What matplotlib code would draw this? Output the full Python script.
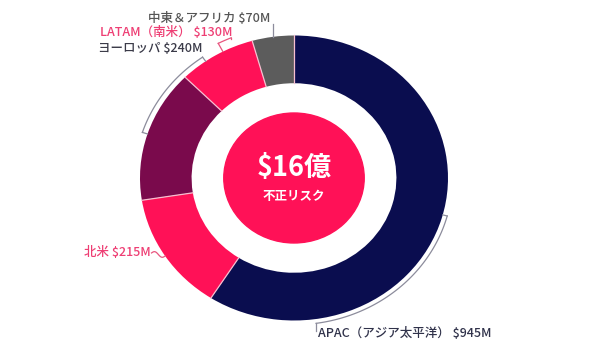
import numpy as np
import matplotlib.pyplot as plt

plt.rcParams['font.family'] = ['Noto Sans CJK JP', 'DejaVu Sans']

# fraud risk by region, $M
regions = ['APAC（アジア太平洋）', '北米', 'ヨーロッパ', 'LATAM（南米）', '中東＆アフリカ']
amounts = [945, 215, 240, 130, 70]
total_label = '$16億'
sub_label = '不正リスク'

colors = ['#0a0d4f', '#ff1157', '#7a0a4c', '#ff1157', '#5c5c5c']
text_colors = ['#30324a', '#ee3f74', '#3a3a48', '#ee3f74', '#555555']
line_gray = '#8c8c9c'
line_pink = '#e8557f'

fig = plt.figure(figsize=(6, 3.5), dpi=100)
ax = fig.add_axes([0, 0, 1, 1])
ring = 0.335
ax.pie(amounts, radius=1, startangle=90, counterclock=False, colors=colors,
       wedgeprops=dict(width=ring, linewidth=0))
# slightly wider than tall, like the original slide
ax.set_aspect('auto')
ax.set_xlim(-1.909, 1.987)
ax.set_ylim(-1.207, 1.249)
ax.axis('off')

# angles measured clockwise from 12 o'clock
bounds = np.concatenate([[0], np.cumsum(amounts)]) / sum(amounts) * 360
mids = (bounds[:-1] + bounds[1:]) / 2


def pt(theta, r):
    t = np.radians(theta)
    return r * np.sin(t), r * np.cos(t)


def arc(t0, t1, r):
    t = np.radians(np.linspace(t0, t1, 80))
    return r * np.sin(t), r * np.cos(t)


def label(i):
    return '%s $%dM' % (regions[i], amounts[i])


# thin light separators between segments
for b in bounds[:-1]:
    ax.plot(*zip(pt(b, 1 - ring), pt(b, 1.0)), color='#f7bfd0', lw=0.9)

# inner disc with the total
ax.add_patch(plt.Circle((0, 0), 0.456, color='#ff1157', zorder=3))
ax.text(0, 0.07, total_label, color='white', fontsize=19.5, fontweight='bold',
        ha='center', va='center', zorder=4)
ax.text(0, -0.133, sub_label, color='white', fontsize=9, fontweight='bold',
        ha='center', va='center', zorder=4)

lw = 0.9

# APAC: bracket down the right side, tail drops to the label
x, y = arc(105, 172, 1.03)
ax.plot(x, y, color=line_gray, lw=lw)
ax.plot(*zip(pt(105, 1.0), pt(105, 1.03)), color=line_gray, lw=lw)
ex, ey = pt(172, 1.03)
ax.plot([ex, ex], [ey, -1.075], color=line_gray, lw=lw)
ax.text(ex + 0.012, -1.088, label(0), color=text_colors[0], fontsize=9,
        fontweight='medium', ha='left', va='center')

# North America: wavy leader into the segment
px, py = pt(mids[1], 1.0)
sx, sy = -0.925, -0.526
s = np.linspace(0, 1, 40)
wx = sx + (px - sx) * s
wy = sy + (py - sy) * s + 0.014 * np.sin(2 * np.pi * s)
ax.plot(wx, wy, color=line_pink, lw=lw)
ax.text(sx - 0.005, sy, label(1), color=text_colors[1], fontsize=9,
        fontweight='medium', ha='right', va='center')

# Europe: bracket along the upper left
x, y = arc(288, 325, 1.035)
ax.plot(x, y, color=line_gray, lw=lw)
for t in (288, 325):
    ax.plot(*zip(pt(t, 1.0), pt(t, 1.035)), color=line_gray, lw=lw)
ax.text(-0.597, 0.912, label(2), color=text_colors[2], fontsize=9,
        fontweight='medium', ha='right', va='center')

# LATAM: short bracket with a riser to the label
x, y = arc(332.5, 337.5, 1.065)
ax.plot(x, y, color=line_pink, lw=lw)
ax.plot(*zip(pt(332.5, 1.0), pt(332.5, 1.065)), color=line_pink, lw=lw)
ex, ey = pt(337.5, 1.065)
ax.plot([ex, ex], [ey, 0.975], color=line_pink, lw=lw)
ax.text(ex + 0.01, 1.018, label(3), color=text_colors[3], fontsize=9,
        fontweight='medium', ha='right', va='center')

# Middle East & Africa: straight riser from the segment
ex, ey = pt(mids[4], 1.0)
ax.plot([ex, ex], [ey, 1.078], color=line_gray, lw=lw)
ax.text(ex - 0.015, 1.116, label(4), color=text_colors[4], fontsize=9,
        fontweight='medium', ha='right', va='center')

fig.savefig('out.png', dpi=100, facecolor='white')
